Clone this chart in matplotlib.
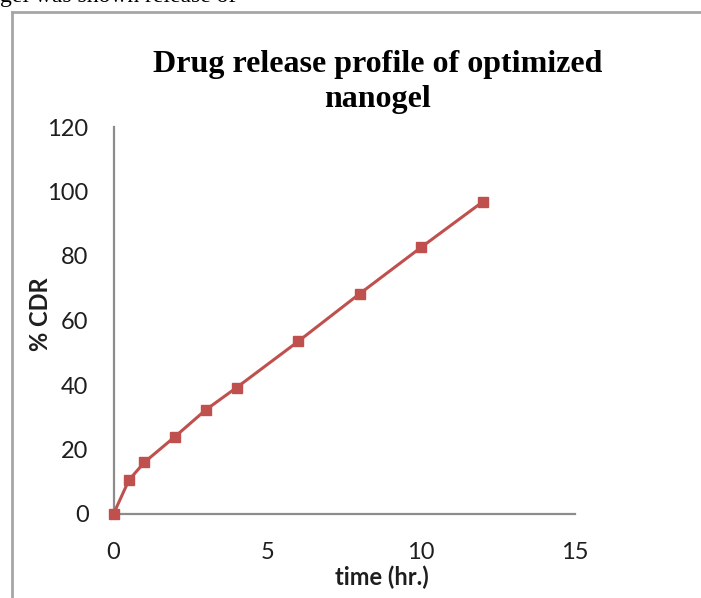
import matplotlib.pyplot as plt
from matplotlib.lines import Line2D

# release data for the optimized nanogel
time_hr = [0, 0.5, 1, 2, 3, 4, 6, 8, 10, 12]
cdr_pct = [0, 10.5, 16.0, 24.0, 32.3, 39.2, 53.5, 68.3, 82.7, 96.8]
x_ticks = [0, 5, 10, 15]
y_ticks = [0, 20, 40, 60, 80, 100, 120]

fig = plt.figure(figsize=(7.01, 5.98), dpi=100)
fig.patch.set_facecolor('white')

# chart frame (runs off the right and bottom edges)
W, H = 701, 598
fig.add_artist(Line2D([12 / W, 1.0], [1 - 12 / H, 1 - 12 / H], transform=fig.transFigure,
                      color='#a6a6a6', linewidth=2))
fig.add_artist(Line2D([12 / W, 12 / W], [0, 1 - 12 / H], transform=fig.transFigure,
                      color='#a6a6a6', linewidth=2))

# leftover line of the surrounding text
fig.text(0.0, 1.0 + 3 / H, 'gel was shown release of', fontsize=17, family='Liberation Serif',
         ha='left', va='center', color='black')

ax = fig.add_axes([113.5 / W, 1 - 514 / H, (575 - 113.5) / W, (514 - 127) / H])
ax.plot(time_hr, cdr_pct, color='#c0504d', linewidth=2.2, marker='s', markersize=7,
        markerfacecolor='#c0504d', markeredgecolor='#c0504d', clip_on=False, zorder=3)

ax.set_xlim(0, 15)
ax.set_ylim(0, 120)
ax.set_xticks(x_ticks)
ax.set_yticks(y_ticks)
ax.tick_params(length=0, labelsize=17, colors='#1e1e1e', labelfontfamily='Lato')
ax.tick_params(axis='x', pad=20)
ax.tick_params(axis='y', pad=18)

for s in ['top', 'right']:
    ax.spines[s].set_visible(False)
for s in ['left', 'bottom']:
    ax.spines[s].set_color('#8c8c8c')
    ax.spines[s].set_linewidth(1.6)

fig.text(378 / W, 1 - 82 / H, 'Drug release profile of optimized\nnanogel', fontsize=23,
         family='Liberation Serif', fontweight='bold', ha='center', va='center',
         linespacing=1.25)
fig.text(40 / W, 1 - 314 / H, '% CDR', fontsize=17, family='Lato', fontweight='bold',
         rotation=90, ha='center', va='center', color='#1e1e1e')
fig.text(382 / W, 1 - 577 / H, 'time (hr.)', fontsize=17, family='Lato', fontweight='bold',
         ha='center', va='center', color='#1e1e1e')

fig.savefig('out.png', dpi=100)
